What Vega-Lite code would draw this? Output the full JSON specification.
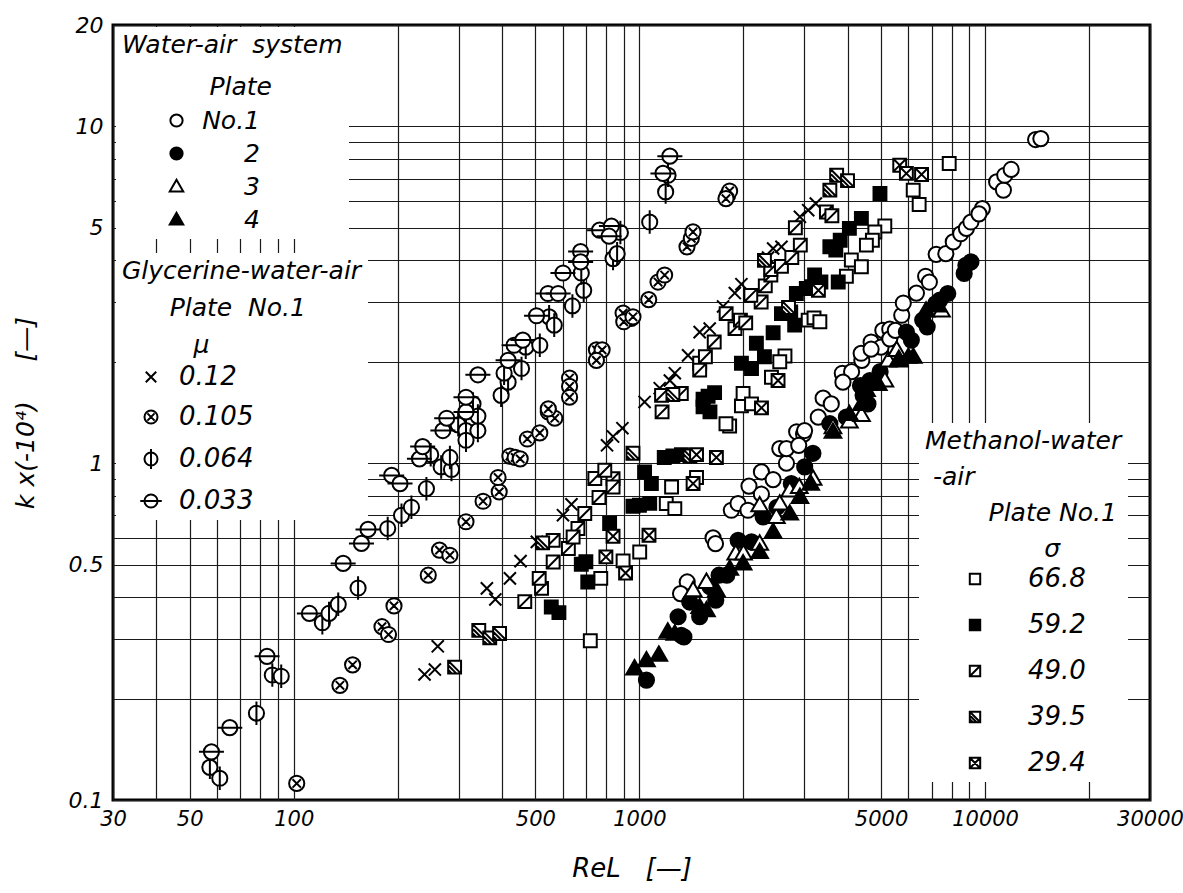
{
  "$schema": "https://vega.github.io/schema/vega-lite/v6.json",
  "width": 1037,
  "height": 775,
  "autosize": {"type": "none"},
  "padding": {"left": 113, "top": 25, "right": 33, "bottom": 93},
  "background": "white",
  "config": {
    "view": {"stroke": "black", "strokeWidth": 3},
    "font": "DejaVu Sans",
    "axis": {"labelFont": "DejaVu Sans", "labelFontStyle": "italic", "labelColor": "black", "titleFont": "DejaVu Sans", "titleFontStyle": "italic", "titleFontWeight": "normal", "titleColor": "black"},
    "legend": {"labelFont": "DejaVu Sans", "labelFontStyle": "italic", "labelColor": "black", "titleFont": "DejaVu Sans", "titleFontStyle": "italic", "titleFontWeight": "normal", "titleColor": "black", "symbolStrokeColor": "black", "symbolStrokeWidth": 2, "fillColor": "white", "orient": "none", "titleLimit": 400, "labelLimit": 200}
  },
  "datasets": {
    "water": [
      {"x":1375,"y":0.444,"plate":"No.1"},{"x":1315,"y":0.41,"plate":"No.1"},{"x":1633,"y":0.60,"plate":"No.1"},{"x":1660,"y":0.577,"plate":"No.1"},{"x":1845,"y":0.725,"plate":"No.1"},{"x":1929,"y":0.759,"plate":"No.1"},{"x":2061,"y":0.725,"plate":"No.1"},{"x":2075,"y":0.855,"plate":"No.1"},{"x":2254,"y":0.809,"plate":"No.1"},{"x":2254,"y":0.942,"plate":"No.1"},{"x":2437,"y":0.894,"plate":"No.1"},{"x":2663,"y":1.0,"plate":"No.1"},{"x":2547,"y":1.105,"plate":"No.1"},{"x":2663,"y":1.105,"plate":"No.1"},{"x":2850,"y":1.24,"plate":"No.1"},{"x":2985,"y":1.22,"plate":"No.1"},{"x":2890,"y":1.13,"plate":"No.1"},{"x":3005,"y":1.25,"plate":"No.1"},{"x":3292,"y":1.37,"plate":"No.1"},{"x":3400,"y":1.56,"plate":"No.1"},{"x":3590,"y":1.5,"plate":"No.1"},{"x":3863,"y":1.85,"plate":"No.1"},{"x":4110,"y":1.87,"plate":"No.1"},{"x":3880,"y":1.74,"plate":"No.1"},{"x":4400,"y":2.02,"plate":"No.1"},{"x":4380,"y":2.12,"plate":"No.1"},{"x":4680,"y":2.29,"plate":"No.1"},{"x":5000,"y":2.21,"plate":"No.1"},{"x":4680,"y":2.18,"plate":"No.1"},{"x":5060,"y":2.48,"plate":"No.1"},{"x":5300,"y":2.5,"plate":"No.1"},{"x":5300,"y":2.34,"plate":"No.1"},{"x":5500,"y":2.48,"plate":"No.1"},{"x":5740,"y":2.75,"plate":"No.1"},{"x":5800,"y":2.99,"plate":"No.1"},{"x":6330,"y":3.2,"plate":"No.1"},{"x":6730,"y":3.59,"plate":"No.1"},{"x":6900,"y":3.45,"plate":"No.1"},{"x":7220,"y":4.17,"plate":"No.1"},{"x":7700,"y":4.19,"plate":"No.1"},{"x":8090,"y":4.54,"plate":"No.1"},{"x":8500,"y":4.8,"plate":"No.1"},{"x":8830,"y":4.98,"plate":"No.1"},{"x":9100,"y":5.2,"plate":"No.1"},{"x":9820,"y":5.7,"plate":"No.1"},{"x":9600,"y":5.5,"plate":"No.1"},{"x":10800,"y":6.84,"plate":"No.1"},{"x":11300,"y":6.47,"plate":"No.1"},{"x":11400,"y":7.16,"plate":"No.1"},{"x":11900,"y":7.45,"plate":"No.1"},{"x":14000,"y":9.14,"plate":"No.1"},{"x":14500,"y":9.2,"plate":"No.1"},
      {"x":1048,"y":0.227,"plate":"2"},{"x":1322,"y":0.308,"plate":"2"},{"x":1345,"y":0.305,"plate":"2"},{"x":1294,"y":0.35,"plate":"2"},{"x":1494,"y":0.35,"plate":"2"},{"x":1398,"y":0.387,"plate":"2"},{"x":1663,"y":0.392,"plate":"2"},{"x":1600,"y":0.43,"plate":"2"},{"x":1700,"y":0.465,"plate":"2"},{"x":1790,"y":0.465,"plate":"2"},{"x":1930,"y":0.59,"plate":"2"},{"x":2110,"y":0.584,"plate":"2"},{"x":2280,"y":0.693,"plate":"2"},{"x":2500,"y":0.74,"plate":"2"},{"x":2750,"y":0.87,"plate":"2"},{"x":3007,"y":0.975,"plate":"2"},{"x":3177,"y":1.07,"plate":"2"},{"x":3556,"y":1.31,"plate":"2"},{"x":3970,"y":1.37,"plate":"2"},{"x":4437,"y":1.59,"plate":"2"},{"x":4583,"y":1.5,"plate":"2"},{"x":4360,"y":1.70,"plate":"2"},{"x":4640,"y":1.76,"plate":"2"},{"x":4970,"y":1.87,"plate":"2"},{"x":5920,"y":2.45,"plate":"2"},{"x":6120,"y":2.32,"plate":"2"},{"x":6600,"y":2.66,"plate":"2"},{"x":6800,"y":2.54,"plate":"2"},{"x":7200,"y":2.98,"plate":"2"},{"x":7400,"y":3.05,"plate":"2"},{"x":7800,"y":3.19,"plate":"2"},{"x":8800,"y":3.87,"plate":"2"},{"x":9100,"y":3.96,"plate":"2"},{"x":8700,"y":3.66,"plate":"2"},
      {"x":1563,"y":0.444,"plate":"3"},{"x":1430,"y":0.42,"plate":"3"},{"x":1900,"y":0.54,"plate":"3"},{"x":2000,"y":0.54,"plate":"3"},{"x":2228,"y":0.577,"plate":"3"},{"x":2228,"y":0.75,"plate":"3"},{"x":2490,"y":0.693,"plate":"3"},{"x":2547,"y":0.759,"plate":"3"},{"x":2722,"y":0.83,"plate":"3"},{"x":2900,"y":0.85,"plate":"3"},{"x":3180,"y":0.90,"plate":"3"},{"x":3630,"y":1.28,"plate":"3"},{"x":4050,"y":1.33,"plate":"3"},{"x":4390,"y":1.39,"plate":"3"},{"x":5130,"y":1.76,"plate":"3"},{"x":5250,"y":2.02,"plate":"3"},{"x":5550,"y":2.17,"plate":"3"},{"x":5640,"y":2.02,"plate":"3"},{"x":7480,"y":2.84,"plate":"3"},
      {"x":968,"y":0.246,"plate":"4"},{"x":1048,"y":0.26,"plate":"4"},{"x":1138,"y":0.27,"plate":"4"},{"x":1208,"y":0.316,"plate":"4"},{"x":1266,"y":0.312,"plate":"4"},{"x":1494,"y":0.374,"plate":"4"},{"x":1563,"y":0.366,"plate":"4"},{"x":1670,"y":0.42,"plate":"4"},{"x":1826,"y":0.486,"plate":"4"},{"x":1995,"y":0.504,"plate":"4"},{"x":2228,"y":0.545,"plate":"4"},{"x":2437,"y":0.625,"plate":"4"},{"x":2722,"y":0.709,"plate":"4"},{"x":2913,"y":0.794,"plate":"4"},{"x":3130,"y":0.87,"plate":"4"},{"x":3630,"y":1.24,"plate":"4"},{"x":4050,"y":1.4,"plate":"4"},{"x":4390,"y":1.5,"plate":"4"},{"x":4540,"y":1.65,"plate":"4"},{"x":4910,"y":1.72,"plate":"4"},{"x":5630,"y":2.04,"plate":"4"},{"x":6000,"y":2.07,"plate":"4"},{"x":6200,"y":2.07,"plate":"4"},{"x":6750,"y":2.84,"plate":"4"},{"x":7300,"y":2.94,"plate":"4"}
    ],
    "gly": [
      {"x":239,"y":0.236,"mu":"0.12"},{"x":256,"y":0.244,"mu":"0.12"},{"x":261,"y":0.286,"mu":"0.12"},{"x":362,"y":0.425,"mu":"0.12"},{"x":383,"y":0.394,"mu":"0.12"},{"x":422,"y":0.455,"mu":"0.12"},{"x":453,"y":0.512,"mu":"0.12"},{"x":505,"y":0.584,"mu":"0.12"},{"x":601,"y":0.701,"mu":"0.12"},{"x":636,"y":0.755,"mu":"0.12"},{"x":806,"y":1.13,"mu":"0.12"},{"x":839,"y":1.2,"mu":"0.12"},{"x":893,"y":1.27,"mu":"0.12"},{"x":1035,"y":1.52,"mu":"0.12"},{"x":1145,"y":1.67,"mu":"0.12"},{"x":1225,"y":1.76,"mu":"0.12"},{"x":1266,"y":1.85,"mu":"0.12"},{"x":1383,"y":2.09,"mu":"0.12"},{"x":1494,"y":2.45,"mu":"0.12"},{"x":1597,"y":2.51,"mu":"0.12"},{"x":1746,"y":2.92,"mu":"0.12"},{"x":1888,"y":3.2,"mu":"0.12"},{"x":1973,"y":3.4,"mu":"0.12"},{"x":2356,"y":4.08,"mu":"0.12"},{"x":2437,"y":4.34,"mu":"0.12"},{"x":2576,"y":4.39,"mu":"0.12"},{"x":2913,"y":5.39,"mu":"0.12"},{"x":3078,"y":5.64,"mu":"0.12"},{"x":3239,"y":5.9,"mu":"0.12"},
      {"x":102,"y":0.112,"mu":"0.105"},{"x":136,"y":0.219,"mu":"0.105"},{"x":148,"y":0.252,"mu":"0.105"},{"x":180,"y":0.327,"mu":"0.105"},{"x":188,"y":0.31,"mu":"0.105"},{"x":195,"y":0.377,"mu":"0.105"},{"x":245,"y":0.465,"mu":"0.105"},{"x":264,"y":0.552,"mu":"0.105"},{"x":283,"y":0.533,"mu":"0.105"},{"x":315,"y":0.67,"mu":"0.105"},{"x":353,"y":0.771,"mu":"0.105"},{"x":393,"y":0.822,"mu":"0.105"},{"x":390,"y":0.907,"mu":"0.105"},{"x":422,"y":1.05,"mu":"0.105"},{"x":437,"y":1.04,"mu":"0.105"},{"x":452,"y":1.03,"mu":"0.105"},{"x":474,"y":1.18,"mu":"0.105"},{"x":515,"y":1.23,"mu":"0.105"},{"x":545,"y":1.42,"mu":"0.105"},{"x":569,"y":1.36,"mu":"0.105"},{"x":545,"y":1.45,"mu":"0.105"},{"x":628,"y":1.79,"mu":"0.105"},{"x":628,"y":1.69,"mu":"0.105"},{"x":628,"y":1.57,"mu":"0.105"},{"x":751,"y":2.17,"mu":"0.105"},{"x":780,"y":2.17,"mu":"0.105"},{"x":751,"y":2.02,"mu":"0.105"},{"x":897,"y":2.79,"mu":"0.105"},{"x":947,"y":2.69,"mu":"0.105"},{"x":901,"y":2.63,"mu":"0.105"},{"x":958,"y":2.72,"mu":"0.105"},{"x":1064,"y":3.06,"mu":"0.105"},{"x":1132,"y":3.45,"mu":"0.105"},{"x":1183,"y":3.62,"mu":"0.105"},{"x":1373,"y":4.39,"mu":"0.105"},{"x":1413,"y":4.65,"mu":"0.105"},{"x":1429,"y":4.86,"mu":"0.105"},{"x":1800,"y":6.25,"mu":"0.105"},{"x":1824,"y":6.43,"mu":"0.105"},{"x":1780,"y":6.1,"mu":"0.105"},
      {"x":57.2,"y":0.125,"mu":"0.064"},{"x":61.1,"y":0.116,"mu":"0.064"},{"x":78,"y":0.181,"mu":"0.064"},{"x":86.7,"y":0.235,"mu":"0.064"},{"x":92,"y":0.233,"mu":"0.064"},{"x":121,"y":0.336,"mu":"0.064"},{"x":126.5,"y":0.358,"mu":"0.064"},{"x":134.5,"y":0.381,"mu":"0.064"},{"x":153.5,"y":0.426,"mu":"0.064"},{"x":187,"y":0.64,"mu":"0.064"},{"x":205,"y":0.70,"mu":"0.064"},{"x":219,"y":0.74,"mu":"0.064"},{"x":242,"y":0.84,"mu":"0.064"},{"x":267,"y":0.975,"mu":"0.064"},{"x":286,"y":0.958,"mu":"0.064"},{"x":283,"y":1.04,"mu":"0.064"},{"x":249,"y":1.06,"mu":"0.064"},{"x":299,"y":1.30,"mu":"0.064"},{"x":315,"y":1.25,"mu":"0.064"},{"x":341,"y":1.25,"mu":"0.064"},{"x":315,"y":1.17,"mu":"0.064"},{"x":330,"y":1.50,"mu":"0.064"},{"x":341,"y":1.38,"mu":"0.064"},{"x":398,"y":1.59,"mu":"0.064"},{"x":417,"y":1.74,"mu":"0.064"},{"x":406,"y":1.85,"mu":"0.064"},{"x":456,"y":1.91,"mu":"0.064"},{"x":469,"y":2.21,"mu":"0.064"},{"x":515,"y":2.24,"mu":"0.064"},{"x":548,"y":2.72,"mu":"0.064"},{"x":567,"y":2.57,"mu":"0.064"},{"x":640,"y":2.93,"mu":"0.064"},{"x":690,"y":3.26,"mu":"0.064"},{"x":679,"y":3.67,"mu":"0.064"},{"x":839,"y":4.05,"mu":"0.064"},{"x":862,"y":4.19,"mu":"0.064"},{"x":881,"y":4.84,"mu":"0.064"},{"x":1071,"y":5.2,"mu":"0.064"},{"x":1191,"y":6.39,"mu":"0.064"},{"x":1210,"y":7.16,"mu":"0.064"},
      {"x":57.8,"y":0.139,"mu":"0.033"},{"x":65.3,"y":0.164,"mu":"0.033"},{"x":83.7,"y":0.267,"mu":"0.033"},{"x":111,"y":0.358,"mu":"0.033"},{"x":139,"y":0.504,"mu":"0.033"},{"x":157,"y":0.578,"mu":"0.033"},{"x":164,"y":0.636,"mu":"0.033"},{"x":192,"y":0.92,"mu":"0.033"},{"x":203,"y":0.87,"mu":"0.033"},{"x":231,"y":1.03,"mu":"0.033"},{"x":236,"y":1.12,"mu":"0.033"},{"x":270,"y":1.25,"mu":"0.033"},{"x":277,"y":1.36,"mu":"0.033"},{"x":315,"y":1.42,"mu":"0.033"},{"x":315,"y":1.57,"mu":"0.033"},{"x":341,"y":1.83,"mu":"0.033"},{"x":417,"y":2.02,"mu":"0.033"},{"x":434,"y":2.24,"mu":"0.033"},{"x":460,"y":2.32,"mu":"0.033"},{"x":504,"y":2.74,"mu":"0.033"},{"x":544,"y":3.19,"mu":"0.033"},{"x":582,"y":3.19,"mu":"0.033"},{"x":601,"y":3.67,"mu":"0.033"},{"x":676,"y":4.25,"mu":"0.033"},{"x":676,"y":3.96,"mu":"0.033"},{"x":767,"y":4.92,"mu":"0.033"},{"x":830,"y":5.06,"mu":"0.033"},{"x":817,"y":4.72,"mu":"0.033"},{"x":1170,"y":7.25,"mu":"0.033"},{"x":1225,"y":8.16,"mu":"0.033"}
    ],
    "meth": [
      {"x":721,"y":0.297,"sigma":"66.8"},{"x":897,"y":0.513,"sigma":"66.8"},{"x":773,"y":0.455,"sigma":"66.8"},{"x":1002,"y":0.545,"sigma":"66.8"},{"x":1239,"y":0.85,"sigma":"66.8"},{"x":1463,"y":0.907,"sigma":"66.8"},{"x":1196,"y":0.759,"sigma":"66.8"},{"x":1266,"y":0.733,"sigma":"66.8"},{"x":1824,"y":1.29,"sigma":"66.8"},{"x":1780,"y":1.31,"sigma":"66.8"},{"x":1973,"y":1.48,"sigma":"66.8"},{"x":2637,"y":2.08,"sigma":"66.8"},{"x":2547,"y":2.0,"sigma":"66.8"},{"x":2410,"y":1.8,"sigma":"66.8"},{"x":1995,"y":1.61,"sigma":"66.8"},{"x":2110,"y":1.5,"sigma":"66.8"},{"x":3078,"y":2.66,"sigma":"66.8"},{"x":3200,"y":2.7,"sigma":"66.8"},{"x":3327,"y":2.63,"sigma":"66.8"},{"x":5128,"y":5.06,"sigma":"66.8"},{"x":4798,"y":4.86,"sigma":"66.8"},{"x":4721,"y":4.59,"sigma":"66.8"},{"x":4536,"y":4.44,"sigma":"66.8"},{"x":4103,"y":4.01,"sigma":"66.8"},{"x":4387,"y":3.83,"sigma":"66.8"},{"x":3970,"y":3.59,"sigma":"66.8"},{"x":6196,"y":6.47,"sigma":"66.8"},{"x":6446,"y":5.86,"sigma":"66.8"},{"x":7875,"y":7.76,"sigma":"66.8"},
      {"x":556,"y":0.374,"sigma":"59.2"},{"x":585,"y":0.36,"sigma":"59.2"},{"x":679,"y":0.501,"sigma":"59.2"},{"x":700,"y":0.51,"sigma":"59.2"},{"x":709,"y":0.444,"sigma":"59.2"},{"x":820,"y":0.662,"sigma":"59.2"},{"x":958,"y":0.745,"sigma":"59.2"},{"x":1035,"y":0.942,"sigma":"59.2"},{"x":1083,"y":0.87,"sigma":"59.2"},{"x":1000,"y":0.75,"sigma":"59.2"},{"x":1071,"y":0.76,"sigma":"59.2"},{"x":1180,"y":1.04,"sigma":"59.2"},{"x":1250,"y":1.05,"sigma":"59.2"},{"x":1323,"y":1.06,"sigma":"59.2"},{"x":1528,"y":1.47,"sigma":"59.2"},{"x":1600,"y":1.42,"sigma":"59.2"},{"x":1528,"y":1.55,"sigma":"59.2"},{"x":1580,"y":1.58,"sigma":"59.2"},{"x":1650,"y":1.62,"sigma":"59.2"},{"x":1973,"y":1.98,"sigma":"59.2"},{"x":2110,"y":1.91,"sigma":"59.2"},{"x":2180,"y":2.27,"sigma":"59.2"},{"x":2300,"y":2.07,"sigma":"59.2"},{"x":2437,"y":2.44,"sigma":"59.2"},{"x":2576,"y":2.78,"sigma":"59.2"},{"x":2740,"y":2.81,"sigma":"59.2"},{"x":2813,"y":2.57,"sigma":"59.2"},{"x":2845,"y":3.19,"sigma":"59.2"},{"x":3040,"y":3.3,"sigma":"59.2"},{"x":3212,"y":3.62,"sigma":"59.2"},{"x":3350,"y":3.45,"sigma":"59.2"},{"x":3150,"y":3.34,"sigma":"59.2"},{"x":3760,"y":3.45,"sigma":"59.2"},{"x":3556,"y":4.39,"sigma":"59.2"},{"x":3700,"y":4.29,"sigma":"59.2"},{"x":3810,"y":4.59,"sigma":"59.2"},{"x":4050,"y":4.98,"sigma":"59.2"},{"x":4387,"y":5.33,"sigma":"59.2"},{"x":4965,"y":6.32,"sigma":"59.2"},
      {"x":466,"y":0.388,"sigma":"49.0"},{"x":521,"y":0.425,"sigma":"49.0"},{"x":513,"y":0.455,"sigma":"49.0"},{"x":563,"y":0.509,"sigma":"49.0"},{"x":623,"y":0.558,"sigma":"49.0"},{"x":664,"y":0.64,"sigma":"49.0"},{"x":695,"y":0.709,"sigma":"49.0"},{"x":764,"y":0.791,"sigma":"49.0"},{"x":743,"y":0.901,"sigma":"49.0"},{"x":839,"y":0.90,"sigma":"49.0"},{"x":839,"y":0.85,"sigma":"49.0"},{"x":794,"y":0.953,"sigma":"49.0"},{"x":563,"y":0.59,"sigma":"49.0"},{"x":643,"y":0.604,"sigma":"49.0"},{"x":1159,"y":1.59,"sigma":"49.0"},{"x":1163,"y":1.42,"sigma":"49.0"},{"x":1322,"y":1.61,"sigma":"49.0"},{"x":1494,"y":1.98,"sigma":"49.0"},{"x":1552,"y":2.07,"sigma":"49.0"},{"x":1494,"y":1.89,"sigma":"49.0"},{"x":1646,"y":2.29,"sigma":"49.0"},{"x":1890,"y":2.51,"sigma":"49.0"},{"x":1960,"y":2.66,"sigma":"49.0"},{"x":2030,"y":2.61,"sigma":"49.0"},{"x":1782,"y":2.78,"sigma":"49.0"},{"x":2250,"y":3.01,"sigma":"49.0"},{"x":2100,"y":3.15,"sigma":"49.0"},{"x":2313,"y":3.36,"sigma":"49.0"},{"x":2400,"y":3.62,"sigma":"49.0"},{"x":2400,"y":3.76,"sigma":"49.0"},{"x":2576,"y":3.84,"sigma":"49.0"},{"x":2760,"y":4.08,"sigma":"49.0"},{"x":2921,"y":4.44,"sigma":"49.0"},{"x":2826,"y":5.0,"sigma":"49.0"},{"x":3475,"y":5.57,"sigma":"49.0"},{"x":3604,"y":5.43,"sigma":"49.0"},
      {"x":292,"y":0.248,"sigma":"39.5"},{"x":343,"y":0.319,"sigma":"39.5"},{"x":369,"y":0.303,"sigma":"39.5"},{"x":394,"y":0.312,"sigma":"39.5"},{"x":525,"y":0.58,"sigma":"39.5"},{"x":958,"y":1.07,"sigma":"39.5"},{"x":3556,"y":6.47,"sigma":"39.5"},{"x":3720,"y":7.16,"sigma":"39.5"},{"x":4000,"y":6.9,"sigma":"39.5"},{"x":1400,"y":1.05,"sigma":"39.5"},{"x":1250,"y":1.6,"sigma":"39.5"},{"x":2700,"y":2.9,"sigma":"39.5"},{"x":2300,"y":4.0,"sigma":"39.5"},
      {"x":839,"y":0.607,"sigma":"29.4"},{"x":800,"y":0.527,"sigma":"29.4"},{"x":912,"y":0.472,"sigma":"29.4"},{"x":1066,"y":0.611,"sigma":"29.4"},{"x":1463,"y":1.06,"sigma":"29.4"},{"x":1670,"y":1.04,"sigma":"29.4"},{"x":1430,"y":0.87,"sigma":"29.4"},{"x":2255,"y":1.46,"sigma":"29.4"},{"x":2518,"y":1.76,"sigma":"29.4"},{"x":3295,"y":3.26,"sigma":"29.4"},{"x":5664,"y":7.67,"sigma":"29.4"},{"x":5920,"y":7.25,"sigma":"29.4"},{"x":6550,"y":7.2,"sigma":"29.4"}
    ]
  },
  "encoding": {
    "x": {
      "field": "x", "type": "quantitative",
      "scale": {"type": "log", "domain": [30, 30000], "nice": false, "zero": false},
      "axis": {
        "values": [30,40,50,60,70,80,90,100,200,300,400,500,600,700,800,900,1000,2000,3000,4000,5000,6000,7000,8000,9000,10000,20000,30000],
        "labelExpr": "indexof([30,50,100,500,1000,5000,10000,30000], datum.value) >= 0 ? format(datum.value, 'd') : ''",
        "labelOverlap": false, "labelFlush": false, "labelFontSize": 21, "labelPadding": 8,
        "grid": true, "gridColor": "#1a1a1a", "gridWidth": 1.2, "gridOpacity": 1,
        "ticks": false, "domain": false,
        "title": "ReL\u00a0\u00a0\u00a0[—]", "titleFontSize": 26, "titlePadding": 26
      }
    },
    "y": {
      "field": "y", "type": "quantitative",
      "scale": {"type": "log", "domain": [0.1, 20], "nice": false, "zero": false},
      "axis": {
        "values": [0.1,0.2,0.3,0.4,0.5,0.6,0.7,0.8,0.9,1,2,3,4,5,6,7,8,9,10,20],
        "labelExpr": "indexof([0.1,0.5,1,5,10,20], datum.value) >= 0 ? (datum.value < 1 ? format(datum.value, '.1f') : format(datum.value, 'd')) : ''",
        "labelOverlap": false, "labelFlush": false, "labelFontSize": 22, "labelPadding": 10,
        "grid": true, "gridColor": "#1a1a1a", "gridWidth": 1.2, "gridOpacity": 1,
        "ticks": false, "domain": false,
        "title": "k\u00a0x(-10⁴)\u00a0\u00a0\u00a0\u00a0\u00a0[—]", "titleFontSize": 25, "titlePadding": 30
      }
    }
  },
  "layer": [
    {
      "data": {"name": "water"},
      "mark": {"type": "point", "filled": true, "stroke": "black", "strokeWidth": 2, "size": 230, "opacity": 1},
      "encoding": {
        "shape": {"field": "plate", "type": "nominal",
          "scale": {"domain": ["No.1","2","3","4"], "range": ["M-1,0A1,1 0 1,1 1,0A1,1 0 1,1 -1,0Z","M-1,0A1,1 0 1,1 1,0A1,1 0 1,1 -1,0Z","M0,-1.1L1.1,0.8L-1.1,0.8Z","M0,-1.1L1.1,0.8L-1.1,0.8Z"]},
          "legend": {"title": ["Water-air\u00a0\u00a0system", "\u200b\u00a0\u00a0\u00a0\u00a0\u00a0\u00a0\u00a0\u00a0\u00a0\u00a0\u00a0Plate"], "legendX": 3, "legendY": 2, "padding": 6, "titleFontSize": 25, "titleLineHeight": 42, "titlePadding": 8, "labelFontSize": 25, "symbolSize": 150, "symbolOffset": 42, "labelOffset": 71, "labelAlign": "right", "rowPadding": 7}},
        "fill": {"field": "plate", "type": "nominal",
          "scale": {"domain": ["No.1","2","3","4"], "range": ["white","black","white","black"]},
          "legend": {"title": ["Water-air\u00a0\u00a0system", "\u200b\u00a0\u00a0\u00a0\u00a0\u00a0\u00a0\u00a0\u00a0\u00a0\u00a0\u00a0Plate"], "legendX": 3, "legendY": 2, "padding": 6, "titleFontSize": 25, "titleLineHeight": 42, "titlePadding": 8, "labelFontSize": 25, "symbolSize": 150, "symbolOffset": 42, "labelOffset": 71, "labelAlign": "right", "rowPadding": 7}},
        "stroke": {"field": "plate", "type": "nominal",
          "scale": {"domain": ["No.1","2","3","4"], "range": ["black","black","black","black"]},
          "legend": {"title": ["Water-air\u00a0\u00a0system", "\u200b\u00a0\u00a0\u00a0\u00a0\u00a0\u00a0\u00a0\u00a0\u00a0\u00a0\u00a0Plate"], "legendX": 3, "legendY": 2, "padding": 6, "titleFontSize": 25, "titleLineHeight": 42, "titlePadding": 8, "labelFontSize": 25, "symbolSize": 150, "symbolOffset": 42, "labelOffset": 71, "labelAlign": "right", "rowPadding": 7}}
      }
    },
    {
      "data": {"name": "gly"},
      "mark": {"type": "point", "filled": true, "stroke": "black", "strokeWidth": 2, "size": 230, "opacity": 1},
      "encoding": {
        "shape": {"field": "mu", "type": "nominal",
          "scale": {"domain": ["0.12","0.105","0.064","0.033"], "range": ["M-0.8,-0.8L0.8,0.8M-0.8,0.8L0.8,-0.8","M-1,0A1,1 0 1,1 1,0A1,1 0 1,1 -1,0ZM-0.55,-0.55L0.55,0.55M-0.55,0.55L0.55,-0.55","M-1,0A1,1 0 1,1 1,0A1,1 0 1,1 -1,0ZM0,-1.55L0,1.55","M-1,0A1,1 0 1,1 1,0A1,1 0 1,1 -1,0ZM-1.65,0L1.65,0"]},
          "legend": {"title": ["Glycerine-water-air", "\u200b\u00a0\u00a0\u00a0\u00a0\u00a0\u00a0Plate\u00a0\u00a0No.1", "\u200b\u00a0\u00a0\u00a0\u00a0\u00a0\u00a0\u00a0\u00a0\u00a0μ"], "legendX": 3, "legendY": 228, "padding": 6, "titleFontSize": 25, "titleLineHeight": 37, "titlePadding": 6, "labelFontSize": 26, "symbolSize": 170, "symbolOffset": 16, "labelOffset": 15, "labelAlign": "left", "rowPadding": 14}},
        "fill": {"field": "mu", "type": "nominal",
          "scale": {"domain": ["0.12","0.105","0.064","0.033"], "range": ["white","white","white","white"]},
          "legend": {"title": ["Glycerine-water-air", "\u200b\u00a0\u00a0\u00a0\u00a0\u00a0\u00a0Plate\u00a0\u00a0No.1", "\u200b\u00a0\u00a0\u00a0\u00a0\u00a0\u00a0\u00a0\u00a0\u00a0μ"], "legendX": 3, "legendY": 228, "padding": 6, "titleFontSize": 25, "titleLineHeight": 37, "titlePadding": 6, "labelFontSize": 26, "symbolSize": 170, "symbolOffset": 16, "labelOffset": 15, "labelAlign": "left", "rowPadding": 14}},
        "stroke": {"field": "mu", "type": "nominal",
          "scale": {"domain": ["0.12","0.105","0.064","0.033"], "range": ["black","black","black","black"]},
          "legend": {"title": ["Glycerine-water-air", "\u200b\u00a0\u00a0\u00a0\u00a0\u00a0\u00a0Plate\u00a0\u00a0No.1", "\u200b\u00a0\u00a0\u00a0\u00a0\u00a0\u00a0\u00a0\u00a0\u00a0μ"], "legendX": 3, "legendY": 228, "padding": 6, "titleFontSize": 25, "titleLineHeight": 37, "titlePadding": 6, "labelFontSize": 26, "symbolSize": 170, "symbolOffset": 16, "labelOffset": 15, "labelAlign": "left", "rowPadding": 14}}
      }
    },
    {
      "data": {"name": "meth"},
      "mark": {"type": "point", "filled": true, "stroke": "black", "strokeWidth": 2, "size": 230, "opacity": 1},
      "encoding": {
        "shape": {"field": "sigma", "type": "nominal",
          "scale": {"domain": ["66.8","59.2","49.0","39.5","29.4"], "range": ["M-0.85,-0.85L0.85,-0.85L0.85,0.85L-0.85,0.85Z","M-0.85,-0.85L0.85,-0.85L0.85,0.85L-0.85,0.85Z","M-0.85,-0.85L0.85,-0.85L0.85,0.85L-0.85,0.85ZM-0.85,0.85L0.85,-0.85","M-0.85,-0.85L0.85,-0.85L0.85,0.85L-0.85,0.85ZM-0.85,-0.85L0.85,0.85M-0.85,-0.25L0.25,0.85M-0.85,0.35L-0.35,0.85","M-0.85,-0.85L0.85,-0.85L0.85,0.85L-0.85,0.85ZM-0.85,-0.85L0.85,0.85M-0.85,0.85L0.85,-0.85"]},
          "legend": {"title": ["Methanol-water", "\u200b\u00a0-air", "\u200b\u00a0\u00a0\u00a0\u00a0\u00a0\u00a0\u00a0\u00a0Plate\u00a0No.1", "\u200b\u00a0\u00a0\u00a0\u00a0\u00a0\u00a0\u00a0\u00a0\u00a0\u00a0\u00a0\u00a0\u00a0\u00a0\u00a0σ"], "legendX": 806, "legendY": 398, "padding": 6, "titleFontSize": 25, "titleLineHeight": 36, "titlePadding": 4, "labelFontSize": 26, "symbolSize": 150, "symbolOffset": 37, "labelOffset": 40, "labelAlign": "left", "rowPadding": 20}},
        "fill": {"field": "sigma", "type": "nominal",
          "scale": {"domain": ["66.8","59.2","49.0","39.5","29.4"], "range": ["white","black","white","white","white"]},
          "legend": {"title": ["Methanol-water", "\u200b\u00a0-air", "\u200b\u00a0\u00a0\u00a0\u00a0\u00a0\u00a0\u00a0\u00a0Plate\u00a0No.1", "\u200b\u00a0\u00a0\u00a0\u00a0\u00a0\u00a0\u00a0\u00a0\u00a0\u00a0\u00a0\u00a0\u00a0\u00a0\u00a0σ"], "legendX": 806, "legendY": 398, "padding": 6, "titleFontSize": 25, "titleLineHeight": 36, "titlePadding": 4, "labelFontSize": 26, "symbolSize": 150, "symbolOffset": 37, "labelOffset": 40, "labelAlign": "left", "rowPadding": 20}},
        "stroke": {"field": "sigma", "type": "nominal",
          "scale": {"domain": ["66.8","59.2","49.0","39.5","29.4"], "range": ["black","black","black","black","black"]},
          "legend": {"title": ["Methanol-water", "\u200b\u00a0-air", "\u200b\u00a0\u00a0\u00a0\u00a0\u00a0\u00a0\u00a0\u00a0Plate\u00a0No.1", "\u200b\u00a0\u00a0\u00a0\u00a0\u00a0\u00a0\u00a0\u00a0\u00a0\u00a0\u00a0\u00a0\u00a0\u00a0\u00a0σ"], "legendX": 806, "legendY": 398, "padding": 6, "titleFontSize": 25, "titleLineHeight": 36, "titlePadding": 4, "labelFontSize": 26, "symbolSize": 150, "symbolOffset": 37, "labelOffset": 40, "labelAlign": "left", "rowPadding": 20}}
      }
    },
    {
      "mark": {"type": "text", "text": "Upper\u00a0\u00a0guide", "fontSize": 25, "fontStyle": "italic", "font": "DejaVu Sans", "color": "black", "align": "center", "baseline": "middle"},
      "encoding": {"x": {"datum": 877}, "y": {"datum": 18.7}}
    }
  ],
  "resolve": {"scale": {"shape": "independent", "fill": "independent", "stroke": "independent"}}
}
